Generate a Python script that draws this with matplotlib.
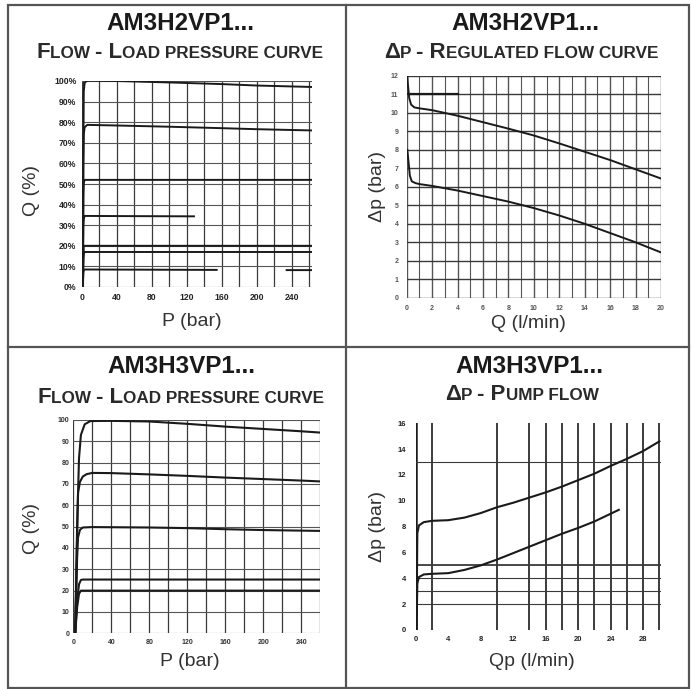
import numpy as np
import matplotlib
matplotlib.use('Agg')
import matplotlib.pyplot as plt
from matplotlib.transforms import IdentityTransform
from matplotlib.lines import Line2D

plt.rcParams['font.family'] = ['Liberation Sans', 'DejaVu Sans']

W, H = 691, 689

# panel 1 : AM3H2VP1 flow - load pressure
p1_x_ticks = [0, 40, 80, 120, 160, 200, 240]
p1_y_ticks = [0, 10, 20, 30, 40, 50, 60, 70, 80, 90, 100]
p1_y_labels = ['0%', '10%', '20%', '30%', '40%', '50%', '60%', '70%', '80%', '90%', '100%']
p1_c100_P = [1, 1.5, 2, 3, 5, 8, 40, 100, 160, 200, 263]
p1_c100_Q = [0, 60, 95, 99, 100, 100.2, 100, 99.3, 98.5, 97.8, 97.1]
p1_c78_P = [1, 1.5, 2, 3, 6, 40, 100, 160, 200, 263]
p1_c78_Q = [0, 60, 74, 77.5, 78.7, 78.4, 77.8, 77.1, 76.6, 76]
p1_c52_P = [1, 1.5, 2, 3, 263]
p1_c52_Q = [0, 45, 50.5, 52, 52]
p1_c34_P = [1, 1.5, 2, 3, 60, 128]
p1_c34_Q = [0, 30, 33, 34.5, 34.4, 34.3]
p1_c20_P = [1, 2, 263]
p1_c20_Q = [0, 20, 20]
p1_c17_P = [1, 1.5, 2, 3, 263]
p1_c17_Q = [0, 14, 16, 17, 17]
p1_c8_P = [1, 1.5, 2, 3, 154, np.nan, 234, 263]
p1_c8_Q = [0, 7, 8, 8.5, 8.3, np.nan, 8.2, 8.2]

# panel 2 : AM3H2VP1 dp - regulated flow
p2_x_ticks = [0, 2, 4, 6, 8, 10, 12, 14, 16, 18, 20]
p2_y_ticks = [0, 1, 2, 3, 4, 5, 6, 7, 8, 9, 10, 11, 12]
p2_up_Q = [0.05, 0.1, 0.2, 0.35, 0.6, 1, 2, 4, 6, 8, 10, 12, 14, 16, 18, 20]
p2_up_dp = [12, 11.5, 10.8, 10.45, 10.3, 10.25, 10.15, 9.85, 9.5, 9.15, 8.78, 8.35, 7.9, 7.45, 6.95, 6.45]
p2_lo_Q = [0.05, 0.15, 0.25, 0.4, 0.7, 1, 2, 4, 6, 8, 10, 12, 14, 16, 18, 20]
p2_lo_dp = [8, 7.3, 6.6, 6.3, 6.2, 6.15, 6.05, 5.8, 5.5, 5.2, 4.85, 4.45, 4.0, 3.5, 3.0, 2.45]

# panel 3 : AM3H3VP1 flow - load pressure
p3_x_ticks = [0, 40, 80, 120, 160, 200, 240]
p3_y_ticks = [0, 10, 20, 30, 40, 50, 60, 70, 80, 90, 100]
p3_c100_P = [2, 4, 6, 8, 12, 18, 40, 80, 120, 160, 200, 240, 260]
p3_c100_Q = [0, 50, 82, 93, 98, 99.5, 99.6, 99.3, 98.2, 96.9, 95.8, 94.7, 94.1]
p3_c75_P = [2, 4, 5, 7, 10, 14, 20, 40, 80, 120, 160, 200, 240, 260]
p3_c75_Q = [0, 45, 66, 71, 73.5, 74.6, 75.2, 75.1, 74.5, 73.8, 73.0, 72.3, 71.6, 71.2]
p3_c50_P = [2, 4, 5, 7, 10, 20, 80, 120, 160, 200, 260]
p3_c50_Q = [0, 35, 45, 48.5, 49.6, 49.8, 49.6, 49.3, 48.8, 48.4, 48]
p3_c25_P = [2, 4, 6, 8, 10, 260]
p3_c25_Q = [0, 15, 23, 25, 25.2, 25.2]
p3_c20_P = [2, 4, 6, 8, 260]
p3_c20_Q = [0, 12, 18.5, 20, 20]

# panel 4 : AM3H3VP1 dp - pump flow
p4_x_ticks = [0, 4, 8, 12, 16, 20, 24, 28]
p4_y_ticks = [0, 2, 4, 6, 8, 10, 12, 14, 16]
p4_vlines = [0, 2, 10, 14, 16, 18, 20, 22, 24, 26, 28, 30]
p4_hlines = [2, 3, 4, 5, 13]
p4_up_Q = [0.1, 0.2, 0.4, 1, 2, 4, 6, 8, 10, 12, 14, 16, 18, 20, 22, 24, 26, 28, 30]
p4_up_dp = [0, 7.5, 8.1, 8.35, 8.45, 8.5, 8.7, 9.05, 9.5, 9.85, 10.25, 10.65, 11.1, 11.6, 12.1, 12.7, 13.25, 13.85, 14.6]
p4_lo_Q = [0.1, 0.2, 0.4, 1, 2, 4, 6, 8, 10, 12, 14, 16, 18, 20, 22, 24, 25]
p4_lo_dp = [0, 3.6, 4.1, 4.3, 4.35, 4.4, 4.65, 5.0, 5.45, 5.95, 6.45, 6.95, 7.45, 7.9, 8.4, 9.0, 9.3]

fig = plt.figure(figsize=(W / 100, H / 100), dpi=100)
fig.patch.set_facecolor('white')
renderer = fig.canvas.get_renderer()

INK = '#1a1a1a'
GRID = '#3a3a3a'


def px_axes(x0, y0, x1, y1):
    # pixel box (top-left origin) -> axes
    return fig.add_axes([x0 / W, 1 - y1 / H, (x1 - x0) / W, (y1 - y0) / H])


def text_w(s, size):
    t = fig.text(0, 0, '|' + s + '|', fontsize=size, fontweight='bold')
    w = t.get_window_extent(renderer).width
    t.remove()
    t = fig.text(0, 0, '||', fontsize=size, fontweight='bold')
    w -= t.get_window_extent(renderer).width
    t.remove()
    return w


def small_caps(xc, ybase, s, big, small):
    runs = []
    for ch in s:
        kind = runs[-1][0] if (ch == ' ' and runs) else ('s' if ch.islower() else 'b')
        if runs and runs[-1][0] == kind:
            runs[-1][1] += ch
        else:
            runs.append([kind, ch])
    pieces = [(r[1].upper(), big if r[0] == 'b' else small) for r in runs]
    widths = [text_w(t, sz) for t, sz in pieces]
    x = xc - sum(widths) / 2
    for (t, sz), w in zip(pieces, widths):
        fig.text(x, H - ybase, t, fontsize=sz, fontweight='bold', color='#2a2a2a',
                 ha='left', va='baseline', transform=IdentityTransform())
        x += w


def titles(xc, y_title, y_sub, name, sub, xsub=None):
    fig.text(xc, H - y_title, name, fontsize=17.5, fontweight='bold', color=INK,
             ha='center', va='baseline', transform=IdentityTransform())
    small_caps(xc if xsub is None else xsub, y_sub, sub, 16, 12.3)


def label(x, y, s, rot=0):
    fig.text(x, H - y, s, fontsize=14, color='#333333', ha='center', va='center',
             rotation=rot, transform=IdentityTransform())


def style(ax, xpad, ypad, size=5.5, color='#222222'):
    for sp in ax.spines.values():
        sp.set_visible(False)
    ax.tick_params(length=0, labelsize=size, labelcolor=color)
    ax.tick_params(axis='x', pad=xpad)
    ax.tick_params(axis='y', pad=ypad)
    for lab in ax.get_xticklabels() + ax.get_yticklabels():
        lab.set_fontweight('bold')
    ax.set_facecolor('none')


# ---- frame
fig.add_artist(plt.Rectangle((8 / W, 1 - 688 / H), 681 / W, 683 / H, fill=False,
                             edgecolor='#555555', lw=1.6, transform=fig.transFigure))
fig.add_artist(Line2D([346 / W, 346 / W], [1 - 688 / H, 1 - 5 / H], color='#555555', lw=1.6))
fig.add_artist(Line2D([8 / W, 689 / W], [1 - 347 / H, 1 - 347 / H], color='#555555', lw=1.6))

# ---- panel 1
ax1 = px_axes(82, 81, 312, 287)
ax1.set_xlim(0, 263)
ax1.set_ylim(0, 100)
for v in range(0, 261, 20):
    ax1.axvline(v, color=GRID, lw=0.9 if v else 2.2, zorder=1)
for h in p1_y_ticks:
    ax1.axhline(h, color='#555555', lw=0.8, zorder=1)
for P, Q in [(p1_c100_P, p1_c100_Q), (p1_c78_P, p1_c78_Q), (p1_c52_P, p1_c52_Q),
             (p1_c34_P, p1_c34_Q), (p1_c20_P, p1_c20_Q), (p1_c17_P, p1_c17_Q), (p1_c8_P, p1_c8_Q)]:
    ax1.plot(P, Q, color=INK, lw=1.4, zorder=3)
ax1.set_xticks(p1_x_ticks)
ax1.set_yticks(p1_y_ticks)
ax1.set_yticklabels(p1_y_labels)
style(ax1, 4, 4, 6.2)
titles(180, 30, 58, 'AM3H2VP1...', 'Flow - Load pressure curve')
label(32, 190, 'Q (%)', 90)
label(192, 322, 'P (bar)')

# ---- panel 2
ax2 = px_axes(406.7, 76, 661, 297.7)
ax2.set_xlim(0, 20)
ax2.set_ylim(0, 12)
for v in range(0, 21):
    ax2.axvline(v, color='#555555', lw=0.8 if v % 2 else 1.0, zorder=1)
for h in p2_y_ticks:
    ax2.axhline(h, color=GRID, lw=1.0, zorder=1)
ax2.plot([0, 4], [11, 11], color=INK, lw=1.6, zorder=2)
ax2.plot(p2_up_Q, p2_up_dp, color=INK, lw=1.4, zorder=3)
ax2.plot(p2_lo_Q, p2_lo_dp, color=INK, lw=1.4, zorder=3)
ax2.set_xticks(p2_x_ticks)
ax2.set_yticks(p2_y_ticks)
style(ax2, 5, 6, 5, '#555555')
titles(525, 30, 58, 'AM3H2VP1...', '\u0394p - Regulated flow curve', 521)
label(378, 187, '\u0394p (bar)', 90)
label(528, 323, 'Q (l/min)')

# ---- panel 3
ax3 = px_axes(73.3, 420, 320.5, 633.3)
ax3.set_xlim(0, 260)
ax3.set_ylim(0, 100)
for v in range(0, 261, 20):
    ax3.axvline(v, color=GRID, lw=0.9, zorder=1)
for h in p3_y_ticks:
    ax3.axhline(h, color='#555555', lw=0.8, zorder=1)
for P, Q in [(p3_c100_P, p3_c100_Q), (p3_c75_P, p3_c75_Q), (p3_c50_P, p3_c50_Q),
             (p3_c25_P, p3_c25_Q), (p3_c20_P, p3_c20_Q)]:
    ax3.plot(P, Q, color=INK, lw=1.5, zorder=3)
ax3.set_xticks(p3_x_ticks)
ax3.set_yticks(p3_y_ticks)
style(ax3, 4, 3, 5, '#333333')
titles(181, 373, 403, 'AM3H3VP1...', 'Flow - Load pressure curve')
label(32, 528, 'Q (%)', 90)
label(190, 662, 'P (bar)')

# ---- panel 4
ax4 = px_axes(415.7, 423.3, 661, 630)
ax4.set_xlim(0, 30.2)
ax4.set_ylim(0, 16)
for v in p4_vlines:
    ax4.axvline(v, color=INK, lw=1.2 if v else 1.8, zorder=1)
for h in p4_hlines:
    ax4.axhline(h, color=GRID, lw=1.3 if h == 5 else 0.8, zorder=1)
ax4.plot(p4_up_Q, p4_up_dp, color=INK, lw=1.5, zorder=3)
ax4.plot(p4_lo_Q, p4_lo_dp, color=INK, lw=1.5, zorder=3)
ax4.set_xticks(p4_x_ticks)
ax4.set_yticks(p4_y_ticks)
style(ax4, 4, 7)
titles(529, 373, 400, 'AM3H3VP1...', '\u0394p - Pump flow', 522)
label(378, 527, '\u0394p (bar)', 90)
label(532, 662, 'Qp (l/min)')

fig.savefig('out.png', dpi=100, facecolor='white')
